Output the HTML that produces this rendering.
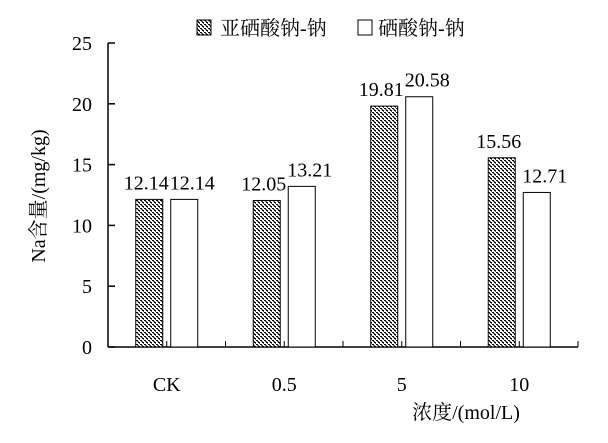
<!DOCTYPE html>
<html><head><meta charset="utf-8"><style>
body{margin:0;background:#fff}
svg text{font-family:"Liberation Serif","Noto Serif CJK SC",serif;fill:#000}
</style></head><body>
<svg width="608" height="438">
<defs>
<pattern id="chk" width="4" height="4" patternUnits="userSpaceOnUse">
<rect width="4" height="4" fill="#fff"/>
<rect x="0" y="0" width="2" height="1" fill="#000"/><rect x="2" y="2" width="2" height="1" fill="#000"/>
<rect x="1" y="1" width="2" height="1" fill="#555"/><rect x="3" y="3" width="1" height="1" fill="#555"/>
</pattern>
</defs>
<g id="axes"></g>
<g id="bars"></g>
<g>
<rect x="197" y="20" width="14" height="15" fill="url(#chk)" stroke="#000"/>
<text x="220" y="35" font-size="20">亚硒酸钠-钠</text>
<rect x="358" y="20" width="14" height="15" fill="#fff" stroke="#000"/>
<text x="378" y="35" font-size="20">硒酸钠-钠</text>
</g>
<text transform="translate(45,196) rotate(-90)" text-anchor="middle" font-size="20">Na含量/(mg/kg)</text>
<text x="466" y="419" text-anchor="middle" font-size="20">浓度/(mol/L)</text>
</svg>
<script>
const categories=["CK","0.5","5","10"];
const selenite=[12.14,12.05,19.81,15.56];
const selenate=[12.14,13.21,20.58,12.71];
const yTicks=[0,5,10,15,20,25];
const NS="http://www.w3.org/2000/svg";
const x0=108,x1=578,y0=347,yMax=25,pxPer=(347-43)/25;
const y=v=>y0-v*pxPer;
const cw=(x1-x0)/categories.length;
const cx=i=>x0+cw*(i+0.5);
function mk(tag,attrs,parent,text){const e=document.createElementNS(NS,tag);for(const k in attrs)e.setAttribute(k,attrs[k]);if(text!=null)e.textContent=text;parent.appendChild(e);return e;}
const ax=document.getElementById('axes');
let e=mk('line',{x1:x0,y1:y(yMax),x2:x0,y2:y0,stroke:'#000','stroke-width':1.5},ax);


e=mk('line',{x1:x0,y1:y0,x2:x1,y2:y0,stroke:'#000','stroke-width':1.5},ax);


yTicks.forEach(t=>{
 mk('line',{x1:x0,y1:y(t),x2:x0+7,y2:y(t),stroke:'#000','stroke-width':1.5},ax);
 const l=mk('text',{x:x0-16,y:y(t)+7,'text-anchor':'end','font-size':20},ax,t);
 
 
});
categories.forEach((c,i)=>{
 mk('line',{x1:cx(i),y1:y0,x2:cx(i),y2:y0-6,stroke:'#000'},ax);
 mk('line',{x1:x0+cw*(i+1),y1:y0,x2:x0+cw*(i+1),y2:y0-6,stroke:'#000'},ax);
 const l=mk('text',{x:cx(i),y:391,'text-anchor':'middle','font-size':20},ax,c);
 
 
});
const bg=document.getElementById('bars');
categories.forEach((c,i)=>{
 [[selenite,'url(#chk)',-31,'bar-selenite',-3],[selenate,'#fff',4,'bar-selenate',8]].forEach(([arr,fill,off,nm,lo])=>{
  const v=arr[i];
  const r=mk('rect',{x:cx(i)+off,y:y(v),width:27,height:y0-y(v),fill:fill,stroke:'#000'},bg);
  
  
  const t=mk('text',{x:cx(i)+off+13.5+lo,y:y(v)-10,'text-anchor':'middle','font-size':20},bg,v.toFixed(2));
  
  
 });
});
</script>
</body></html>
